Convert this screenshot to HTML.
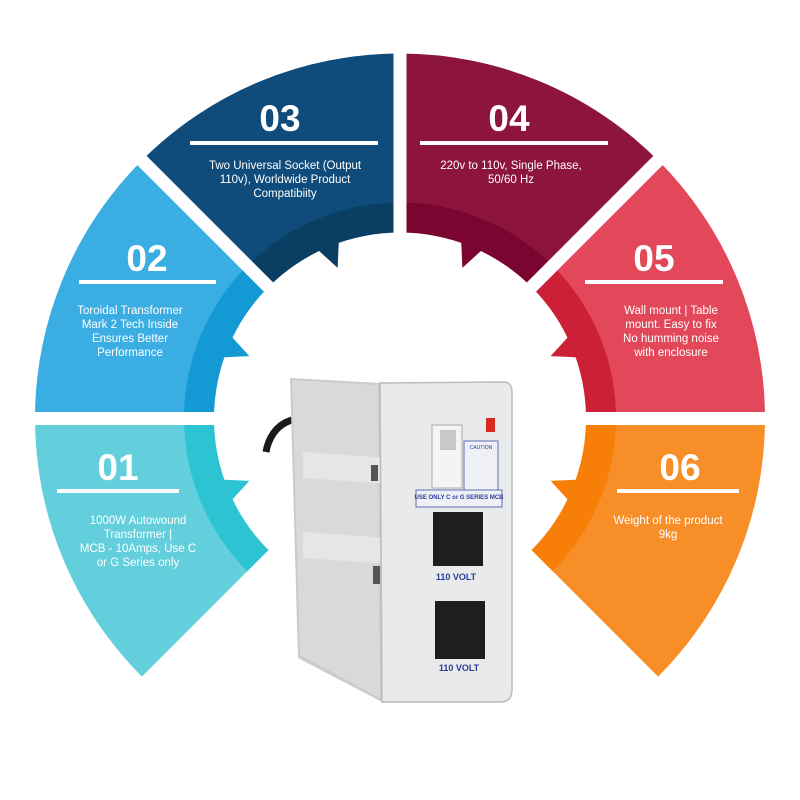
<!DOCTYPE html>
<html><head><meta charset="utf-8"><style>
html,body{margin:0;padding:0;background:#fff;}
svg{display:block;}
.n{font-family:"Liberation Sans",sans-serif;font-weight:bold;font-size:37px;fill:#fff;text-anchor:middle;}
.t{font-family:"Liberation Sans",sans-serif;font-size:11.5px;fill:#fff;text-anchor:middle;}
</style></head><body>
<svg width="800" height="800" viewBox="0 0 800 800">
<defs>
<path id="w" d="M0,0 L365,0 A365,365 0 0 0 258.1,-258.1 Z"/>
<path id="b" d="M0,0 L216,0 A216,216 0 0 0 152.7,-152.7 Z"/>
<polygon id="th" points="187.6,11.5 187.6,-11.5 163,0"/>
</defs>
<g transform="translate(400,418.5)">
 <use href="#w" fill="#e2485a" transform="rotate(0)"/>
 <use href="#w" fill="#8c143d" transform="rotate(-45)"/>
 <use href="#w" fill="#0f4c7b" transform="rotate(-90)"/>
 <use href="#w" fill="#3aaee3" transform="rotate(-135)"/>
 <use href="#w" fill="#63cfdc" transform="rotate(-180)"/>
 <use href="#w" fill="#f88e28" transform="rotate(45)"/>
 <use href="#b" fill="#cb2036" transform="rotate(0)"/>
 <use href="#b" fill="#7a0530" transform="rotate(-45)"/>
 <use href="#b" fill="#0b3e63" transform="rotate(-90)"/>
 <use href="#b" fill="#1399d4" transform="rotate(-135)"/>
 <use href="#b" fill="#2cc4d3" transform="rotate(-180)"/>
 <use href="#b" fill="#f77f07" transform="rotate(45)"/>
 <circle r="186" fill="#fff"/>
 <g stroke="#fff" stroke-width="13">
  <line x1="0" y1="0" x2="380" y2="0"/>
  <line x1="0" y1="0" x2="-380" y2="0"/>
  <line x1="0" y1="0" x2="0" y2="-380"/>
  <line x1="0" y1="0" x2="270" y2="-270"/>
  <line x1="0" y1="0" x2="-270" y2="-270"/>
 </g>
 <use href="#th" fill="#cb2036" transform="rotate(-22.5)"/>
 <use href="#th" fill="#7a0530" transform="rotate(-67.5)"/>
 <use href="#th" fill="#0b3e63" transform="rotate(-112.5)"/>
 <use href="#th" fill="#1399d4" transform="rotate(-157.5)"/>
 <use href="#th" fill="#2cc4d3" transform="rotate(-202.5)"/>
 <use href="#th" fill="#f77f07" transform="rotate(22.5)"/>
</g>
<!-- 03 -->
<text class="n" x="280" y="131">03</text>
<rect x="190" y="141" width="188" height="4" fill="#fff"/>
<text class="t" x="285" y="169">Two Universal Socket (Output</text>
<text class="t" x="285" y="183">110v), Worldwide Product</text>
<text class="t" x="285" y="197">Compatibiity</text>
<!-- 04 -->
<text class="n" x="509" y="131">04</text>
<rect x="420" y="141" width="188" height="4" fill="#fff"/>
<text class="t" x="511" y="169">220v to 110v, Single Phase,</text>
<text class="t" x="511" y="183">50/60 Hz</text>
<!-- 02 -->
<text class="n" x="147" y="271">02</text>
<rect x="79" y="280" width="137" height="4" fill="#fff"/>
<text class="t" x="130" y="314">Toroidal Transformer</text>
<text class="t" x="130" y="328">Mark 2 Tech Inside</text>
<text class="t" x="130" y="342">Ensures Better</text>
<text class="t" x="130" y="356">Performance</text>
<!-- 05 -->
<text class="n" x="654" y="271">05</text>
<rect x="585" y="280" width="138" height="4" fill="#fff"/>
<text class="t" x="671" y="314">Wall mount | Table</text>
<text class="t" x="671" y="328">mount. Easy to fix</text>
<text class="t" x="671" y="342">No humming noise</text>
<text class="t" x="671" y="356">with enclosure</text>
<!-- 01 -->
<text class="n" x="118" y="480">01</text>
<rect x="57" y="489" width="122" height="4" fill="#fff"/>
<text class="t" x="138" y="524">1000W Autowound</text>
<text class="t" x="138" y="538">Transformer |</text>
<text class="t" x="138" y="552">MCB - 10Amps, Use C</text>
<text class="t" x="138" y="566">or G Series only</text>
<!-- 06 -->
<text class="n" x="680" y="480">06</text>
<rect x="617" y="489" width="122" height="4" fill="#fff"/>
<text class="t" x="668" y="524">Weight of the product</text>
<text class="t" x="668" y="538">9kg</text>
<!-- product -->
<path d="M292,420 C275,425 268,440 266,452" stroke="#1a1a1a" stroke-width="7" fill="none"/>
<polygon points="290,378 380,383 382,702 298,658" fill="#c9cbcc"/>
<polygon points="292,380 378,385 380,698 300,655" fill="#d7d9da"/>
<rect x="303" y="452" width="80" height="26" fill="#e4e6e7" transform="skewY(4)" transform-origin="303 452"/>
<rect x="303" y="532" width="80" height="26" fill="#e4e6e7" transform="skewY(4)" transform-origin="303 532"/>
<rect x="371" y="465" width="7" height="16" fill="#555"/>
<rect x="373" y="566" width="7" height="18" fill="#555"/>
<path d="M380,383 L505,382 Q512,383 512,392 L512,690 Q512,702 500,702 L382,702 Z" fill="#e8eaeb" stroke="#b9bbbc" stroke-width="1.5"/>
<rect x="432" y="425" width="30" height="63" fill="#f4f4f4" stroke="#999" stroke-width="0.8"/>
<rect x="440" y="430" width="16" height="20" fill="#c8c8c8"/>
<rect x="486" y="418" width="9" height="14" fill="#d62b1e"/>
<rect x="464" y="441" width="34" height="52" fill="#eef0f6" stroke="#3b4fa8" stroke-width="0.8"/>
<text x="481" y="449" font-family="Liberation Sans" font-size="5" fill="#2a3d9a" text-anchor="middle">CAUTION</text>
<rect x="416" y="490" width="86" height="17" fill="#eef0f6" stroke="#3b4fa8" stroke-width="0.8"/>
<text x="459" y="499" font-family="Liberation Sans" font-size="6" font-weight="bold" fill="#2a3d9a" text-anchor="middle">USE ONLY C or G SERIES MCB</text>
<rect x="433" y="512" width="50" height="54" fill="#1e1e1e"/>
<rect x="435" y="601" width="50" height="58" fill="#1e1e1e"/>
<text x="456" y="580" font-family="Liberation Sans" font-size="9" font-weight="bold" fill="#2a3d9a" text-anchor="middle">110 VOLT</text>
<text x="459" y="671" font-family="Liberation Sans" font-size="9" font-weight="bold" fill="#2a3d9a" text-anchor="middle">110 VOLT</text>
</svg>
</body></html>
